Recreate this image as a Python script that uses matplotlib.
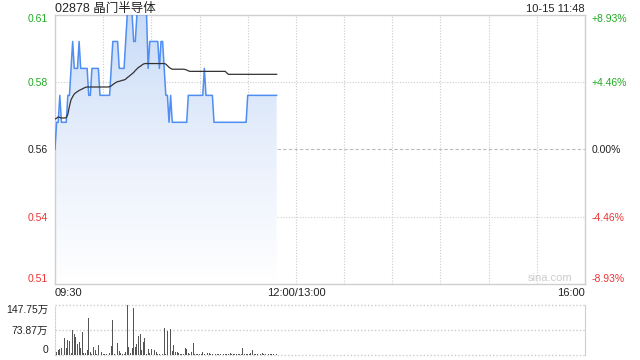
import matplotlib
matplotlib.use("Agg")
import matplotlib.pyplot as plt
import numpy as np
from matplotlib.colors import LinearSegmentedColormap
from matplotlib import transforms

plt.rcParams['font.family'] = ['Liberation Sans', 'Noto Sans CJK SC', 'DejaVu Sans']

# ── data (one value per minute from 09:30) ──────────────────────────────────
TITLE = "02878 晶门半导体"
STAMP = "10-15 11:48"
PREV_CLOSE = 0.56

price = [
    0.56, 0.57, 0.57, 0.58, 0.57, 0.57, 0.57, 0.57, 0.58, 0.58,
    0.59, 0.60, 0.59, 0.59, 0.59, 0.60, 0.59, 0.59, 0.59, 0.59,
    0.59, 0.58, 0.58, 0.59, 0.59, 0.59, 0.59, 0.59, 0.58, 0.58,
    0.58, 0.58, 0.58, 0.58, 0.58, 0.59, 0.60, 0.60, 0.60, 0.60,
    0.59, 0.59, 0.59, 0.59, 0.60, 0.61, 0.61, 0.61, 0.61, 0.60,
    0.60, 0.61, 0.61, 0.61, 0.61, 0.61, 0.61, 0.61, 0.59, 0.60,
    0.60, 0.60, 0.60, 0.60, 0.60, 0.59, 0.60, 0.60, 0.59, 0.58,
    0.58, 0.57, 0.58, 0.57, 0.57, 0.57, 0.57, 0.57, 0.57, 0.57,
    0.57, 0.57, 0.57, 0.58, 0.58, 0.58, 0.58, 0.58, 0.58, 0.58,
    0.58, 0.58, 0.58, 0.59, 0.58, 0.58, 0.58, 0.58, 0.58, 0.57,
    0.57, 0.57, 0.57, 0.57, 0.57, 0.57, 0.57, 0.57, 0.57, 0.57,
    0.57, 0.57, 0.57, 0.57, 0.57, 0.57, 0.57, 0.57, 0.57, 0.57,
    0.58, 0.58, 0.58, 0.58, 0.58, 0.58, 0.58, 0.58, 0.58, 0.58,
    0.58, 0.58, 0.58, 0.58, 0.58, 0.58, 0.58, 0.58, 0.58,
]

avg_price = [
    0.5712, 0.5715, 0.5720, 0.5718, 0.5716, 0.5716, 0.5716, 0.5717, 0.5730, 0.5760,
    0.5784, 0.5795, 0.5805, 0.5810, 0.5814, 0.5818, 0.5821, 0.5824, 0.5827, 0.5830,
    0.5831, 0.5831, 0.5831, 0.5831, 0.5831, 0.5831, 0.5831, 0.5831, 0.5831, 0.5831,
    0.5831, 0.5831, 0.5831, 0.5831, 0.5832, 0.5835, 0.5840, 0.5844, 0.5848, 0.5851,
    0.5852, 0.5854, 0.5856, 0.5857, 0.5860, 0.5866, 0.5870, 0.5875, 0.5880, 0.5885,
    0.5892, 0.5898, 0.5904, 0.5907, 0.5912, 0.5916, 0.5918, 0.5918, 0.5918, 0.5918,
    0.5918, 0.5918, 0.5918, 0.5918, 0.5918, 0.5918, 0.5918, 0.5918, 0.5918, 0.5916,
    0.5910, 0.5904, 0.5900, 0.5897, 0.5897, 0.5897, 0.5897, 0.5897, 0.5897, 0.5897,
    0.5897, 0.5896, 0.5894, 0.5891, 0.5889, 0.5889, 0.5889, 0.5889, 0.5889, 0.5889,
    0.5889, 0.5889, 0.5889, 0.5889, 0.5889, 0.5889, 0.5889, 0.5889, 0.5889, 0.5889,
    0.5889, 0.5889, 0.5889, 0.5889, 0.5889, 0.5889, 0.5889, 0.5883, 0.5878, 0.5878,
    0.5878, 0.5878, 0.5878, 0.5878, 0.5878, 0.5878, 0.5878, 0.5878, 0.5878, 0.5878,
    0.5878, 0.5878, 0.5878, 0.5878, 0.5878, 0.5878, 0.5878, 0.5878, 0.5878, 0.5878,
    0.5878, 0.5878, 0.5878, 0.5878, 0.5878, 0.5878, 0.5878, 0.5878, 0.5878,
]

# volume in 万 shares
volume = [
    71, 10, 15, 17, 22, 17, 51, 20, 43, 41,
    7, 75, 61, 53, 32, 39, 20, 69, 6, 7,
    15, 110, 10, 3, 24, 14, 4, 30, 4, 9,
    4, 4, 4, 15, 7, 27, 104, 4, 10, 35,
    12, 6, 4, 4, 10, 147.75, 24, 5, 22, 139,
    25, 33, 56, 63, 14, 39, 51, 4, 19, 7,
    19, 4, 15, 9, 4, 2, 4, 3, 81, 4,
    71, 39, 76, 12, 29, 10, 9, 6, 4, 4,
    3, 22, 19, 6, 3, 10, 36, 4, 4, 4,
    4, 4, 10, 4, 9, 7, 6, 3, 2, 81,
    4, 3, 4, 2, 5, 3, 4, 2, 3, 5,
    3, 2, 4, 3, 2, 3, 4, 22, 3, 2,
    4, 3, 5, 14, 3, 4, 2, 10, 3, 5,
    2, 4, 3, 2, 4, 3, 2, 3, 2,
]

price_ticks  = [0.61, 0.585, 0.56, 0.535, 0.51]
price_labels = ["0.61", "0.58", "0.56", "0.54", "0.51"]
pct_labels   = ["+8.93%", "+4.46%", "0.00%", "-4.46%", "-8.93%"]
vol_ticks    = [147.75, 73.87, 0]
vol_labels   = ["147.75万", "73.87万", "0"]
time_labels  = ["09:30", "12:00/13:00", "16:00"]
time_pos     = [0, 150, 330]
grid_minutes = [30, 60, 90, 120, 150, 180, 210, 240, 270, 300]

# ── colours ────────────────────────────────────────────────────────────────
C_LINE  = "#4f8ef2"
C_AVG   = "#333333"
C_GREEN = "#22aa22"
C_RED   = "#ee3333"
C_TEXT  = "#222222"
C_GRID  = "#cccccc"
C_EDGE  = "#cfcfcf"
label_colors = [C_GREEN, C_GREEN, C_TEXT, C_RED, C_RED]

minutes = np.arange(len(price))
YMIN, YMAX = 0.51, 0.61

fig = plt.figure(figsize=(6.4, 3.6), dpi=100, facecolor="white")
ax = fig.add_axes([55 / 640, 1 - 284 / 360, 530 / 640, 269.5 / 360])
axv = fig.add_axes([55 / 640, 1 - 355 / 360, 530 / 640, 50 / 360])

# ── main price panel ──────────────────────────────────────────────────────
ax.set_xlim(0, 330)
ax.set_ylim(YMIN, YMAX)
for s in ax.spines.values():
    s.set_edgecolor(C_EDGE)
    s.set_linewidth(1)

for m in grid_minutes:
    ax.axvline(m, color=C_GRID, lw=0.8, ls=(0, (1, 1.5)), zorder=0)
for t in (0.585, 0.535):
    ax.axhline(t, color=C_GRID, lw=0.8, ls=(0, (1, 1.5)), zorder=0)
ax.axhline(PREV_CLOSE, color="#bbbbbb", lw=0.8, ls=(0, (3, 2)), zorder=0)

# gradient fill under the price line
cmap = LinearSegmentedColormap.from_list("fill", ["#ffffff", "#e9f0fc", "#c8dbf7"])
poly = ax.fill_between(minutes, price, YMIN, color="none", lw=0)
grad = np.linspace(0, 1, 256).reshape(-1, 1)
im = ax.imshow(grad, cmap=cmap, origin="lower", aspect="auto",
               extent=[0, minutes[-1], YMIN, YMAX], zorder=1)
im.set_clip_path(poly.get_paths()[0], transform=ax.transData)

ax.plot(minutes, price, color=C_LINE, lw=1.1, zorder=3)
ax.plot(minutes, avg_price, color=C_AVG, lw=0.9, zorder=4)

ax.set_xticks([])
ax.set_yticks(price_ticks)
ax.set_yticklabels(price_labels, fontsize=7.5)
ax.tick_params(axis="y", length=0, pad=5)
for lab, c, v in zip(ax.get_yticklabels(), label_colors, price_ticks):
    lab.set_color(c)
    if v == YMAX:
        lab.set_va("top")
    elif v == YMIN:
        lab.set_va("bottom")

axr = ax.twinx()
axr.set_ylim(YMIN, YMAX)
axr.set_yticks(price_ticks)
axr.set_yticklabels(pct_labels, fontsize=7.5)
axr.tick_params(axis="y", length=0, pad=5)
for s in axr.spines.values():
    s.set_visible(False)
for lab, c, v in zip(axr.get_yticklabels(), label_colors, price_ticks):
    lab.set_color(c)
    if v == YMAX:
        lab.set_va("top")
    elif v == YMIN:
        lab.set_va("bottom")

trans = transforms.blended_transform_factory(ax.transData, ax.transAxes)
for pos, lab in zip(time_pos, time_labels):
    ha = "left" if pos == 0 else ("right" if pos == 330 else "center")
    ax.text(pos, -0.015, lab, transform=trans, ha=ha, va="top",
            fontsize=8, color=C_TEXT)

ax.text(0, 1.009, TITLE, transform=ax.transAxes, ha="left", va="baseline",
        fontsize=9, color=C_TEXT)
ax.text(1, 1.009, STAMP, transform=ax.transAxes, ha="right", va="baseline",
        fontsize=8, color=C_TEXT)
ax.text(0.977, 0.004, "sina.com", transform=ax.transAxes, ha="right", va="bottom",
        fontsize=8, color="#cccccc")

# ── volume panel ──────────────────────────────────────────────────────────
axv.set_xlim(0, 330)
axv.set_ylim(0, vol_ticks[0])
axv.bar(minutes, volume, width=0.55, color="#555555", zorder=3)
for t in vol_ticks:
    axv.axhline(t, color=C_GRID, lw=1, ls=(0, (1, 1.5)), zorder=0, clip_on=False)
for k, s in axv.spines.items():
    s.set_edgecolor(C_EDGE)
    if k in ("top", "bottom"):
        s.set_visible(False)
axv.spines["left"].set_linestyle((0, (1, 1.5)))
axv.set_xticks([])
axv.set_yticks(vol_ticks)
axv.set_yticklabels(vol_labels, fontsize=7.5, color=C_TEXT)
axv.tick_params(axis="y", length=0, pad=5)
labs = axv.get_yticklabels()
labs[0].set_va("top")
labs[-1].set_va("bottom")

fig.savefig("out.png", dpi=100, facecolor="white")
